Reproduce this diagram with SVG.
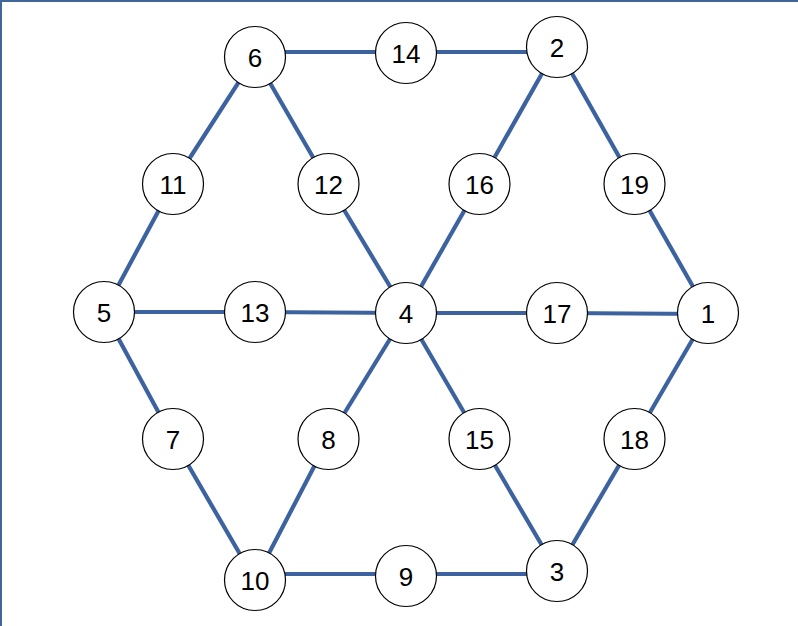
<svg xmlns="http://www.w3.org/2000/svg" width="798" height="626" viewBox="0 0 798 626">
<style>
.e{stroke:#3c63a0;stroke-width:4.2;fill:none}
.n circle{fill:#fff;stroke:#000;stroke-width:1.2}
.n text{font-family:"Liberation Sans",Arial,sans-serif;font-size:26px;fill:#000;text-anchor:middle;dominant-baseline:central}
.b{stroke:#41669a;stroke-width:2}
</style>
<rect x="0" y="0" width="798" height="626" fill="#fff"/>
<line class="b" x1="0" y1="1" x2="798" y2="1"/>
<line class="b" x1="1" y1="0" x2="1" y2="626"/>
<g id="edges">
<line class="e" x1="255" y1="52" x2="406" y2="52"/>
<line class="e" x1="406" y1="52" x2="557" y2="52"/>
<line class="e" x1="255" y1="57" x2="173" y2="184"/>
<line class="e" x1="255" y1="57" x2="328.5" y2="184"/>
<line class="e" x1="557" y1="47" x2="479.5" y2="184"/>
<line class="e" x1="557" y1="47" x2="634.5" y2="184"/>
<line class="e" x1="173" y1="184" x2="104" y2="312"/>
<line class="e" x1="328.5" y1="184" x2="406" y2="313"/>
<line class="e" x1="479.5" y1="184" x2="406" y2="313"/>
<line class="e" x1="634.5" y1="184" x2="708" y2="313"/>
<line class="e" x1="104" y1="312" x2="255" y2="312"/>
<line class="e" x1="255" y1="312" x2="406" y2="313"/>
<line class="e" x1="406" y1="313" x2="557" y2="313"/>
<line class="e" x1="557" y1="313" x2="708" y2="314"/>
<line class="e" x1="104" y1="312" x2="173" y2="439"/>
<line class="e" x1="406" y1="313" x2="328.5" y2="439"/>
<line class="e" x1="406" y1="313" x2="479.5" y2="439"/>
<line class="e" x1="708" y1="313" x2="634.5" y2="439"/>
<line class="e" x1="173" y1="439" x2="255" y2="580"/>
<line class="e" x1="328.5" y1="439" x2="255" y2="580"/>
<line class="e" x1="479.5" y1="439" x2="557" y2="571"/>
<line class="e" x1="634.5" y1="439" x2="557" y2="571"/>
<line class="e" x1="255" y1="574" x2="406" y2="574"/>
<line class="e" x1="406" y1="574" x2="557" y2="574"/>
</g>
<g id="n6" class="n"><circle cx="255" cy="57" r="30.5"/><text x="255" y="58">6</text></g>
<g id="n14" class="n"><circle cx="406" cy="53" r="30.5"/><text x="406" y="54">14</text></g>
<g id="n2" class="n"><circle cx="557" cy="47" r="30.5"/><text x="557" y="48">2</text></g>
<g id="n11" class="n"><circle cx="173" cy="184" r="30.5"/><text x="173" y="185">11</text></g>
<g id="n12" class="n"><circle cx="328.5" cy="184" r="30.5"/><text x="328.5" y="185">12</text></g>
<g id="n16" class="n"><circle cx="479.5" cy="184" r="30.5"/><text x="479.5" y="185">16</text></g>
<g id="n19" class="n"><circle cx="634.5" cy="184" r="30.5"/><text x="634.5" y="185">19</text></g>
<g id="n5" class="n"><circle cx="104" cy="312" r="30.5"/><text x="104" y="313">5</text></g>
<g id="n13" class="n"><circle cx="255" cy="312" r="30.5"/><text x="255" y="313">13</text></g>
<g id="n4" class="n"><circle cx="406" cy="313" r="30.5"/><text x="406" y="314">4</text></g>
<g id="n17" class="n"><circle cx="557" cy="313" r="30.5"/><text x="557" y="314">17</text></g>
<g id="n1" class="n"><circle cx="708" cy="313" r="30.5"/><text x="708" y="314">1</text></g>
<g id="n7" class="n"><circle cx="173" cy="439" r="30.5"/><text x="173" y="440">7</text></g>
<g id="n8" class="n"><circle cx="328.5" cy="439" r="30.5"/><text x="328.5" y="440">8</text></g>
<g id="n15" class="n"><circle cx="479.5" cy="439" r="30.5"/><text x="479.5" y="440">15</text></g>
<g id="n18" class="n"><circle cx="634.5" cy="439" r="30.5"/><text x="634.5" y="440">18</text></g>
<g id="n10" class="n"><circle cx="255" cy="580" r="30.5"/><text x="255" y="581">10</text></g>
<g id="n9" class="n"><circle cx="406" cy="576" r="30.5"/><text x="406" y="577">9</text></g>
<g id="n3" class="n"><circle cx="557" cy="571" r="30.5"/><text x="557" y="572">3</text></g>
</svg>
